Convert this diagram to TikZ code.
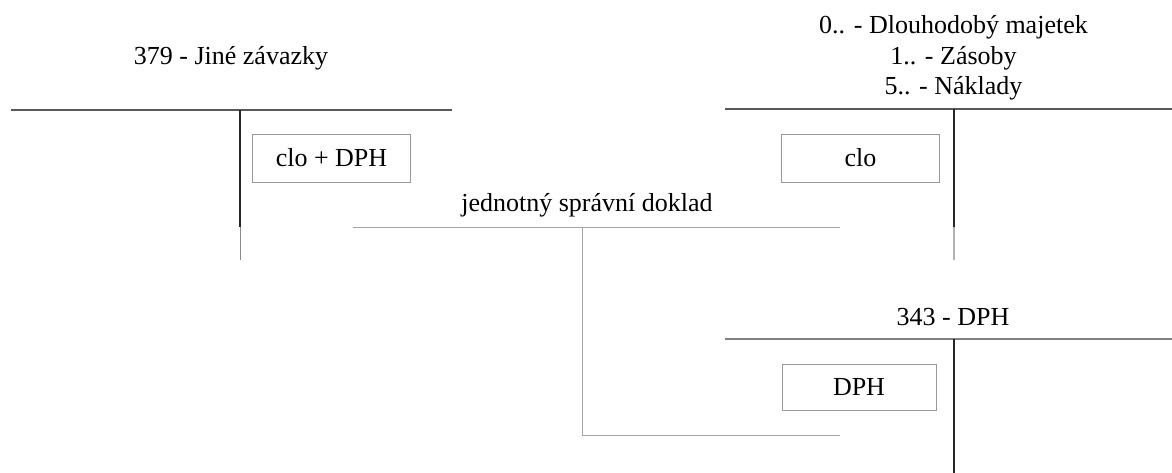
\documentclass[tikz,border=0pt]{standalone}
\usepackage{fontspec}
\setmainfont{Liberation Serif}
\begin{document}
\begin{tikzpicture}[x=1pt,y=-1pt,
  lbl/.style={font=\fontsize{26}{30.5}\selectfont, inner sep=0pt, anchor=center, align=center},
  entry/.style={draw=black!40, line width=0.8pt, minimum width=158pt, minimum height=48pt, inner sep=0pt, font=\fontsize{26}{30}\selectfont},
  acct/.style={draw=black!65, line width=1.5pt},
  axis/.style={draw=black!85, line width=1.8pt},
  tail/.style={draw=black!30, line width=1.5pt},
  conn/.style={draw=black!35, line width=0.9pt}]
\useasboundingbox (0,0) rectangle (1172,473);
% left account
\node[lbl] (t379) at (231,58) {379 - Jiné závazky};
\coordinate (l1) at (11,110); \coordinate (l2) at (452,110);
\coordinate (lv1) at (240,110); \coordinate (lv2) at (240,227); \coordinate (lv3) at (240,260);
\draw[acct] (l1) -- (l2);
\draw[axis] (lv1) -- (lv2);
\draw[draw=black!45, line width=0.9pt] (lv2) -- (lv3);
\node[entry] (b1) at (331.5,158) {clo + DPH};
% right top account
\node[lbl] (tr) at (953.5,58) {0.. - Dlouhodobý majetek\\1.. - Zásoby\\5.. - Náklady};
\coordinate (r1) at (725,109); \coordinate (r2) at (1172,109);
\coordinate (rv1) at (954,109); \coordinate (rv2) at (954,227); \coordinate (rv3) at (954,260);
\draw[acct] (r1) -- (r2);
\draw[axis] (rv1) -- (rv2);
\draw[tail] (rv2) -- (rv3);
\node[entry] (b2) at (860.5,158) {clo};
% right bottom account
\node[lbl] (t343) at (953,317) {343 - DPH};
\coordinate (d1) at (725,339); \coordinate (d2) at (1172,339);
\coordinate (dv1) at (954,339); \coordinate (dv2) at (954,473);
\draw[draw=black!50, line width=1.5pt] (d1) -- (d2);
\draw[axis] (dv1) -- (dv2);
\node[entry, minimum width=154pt, minimum height=46pt] (b3) at (859,387) {DPH};
% document
\node[lbl] (doc) at (587,205) {jednotný správní doklad};
\coordinate (c1) at (353,227); \coordinate (c2) at (840,227);
\coordinate (c3) at (582,227); \coordinate (c4) at (582,435); \coordinate (c5) at (840,435);
\draw[conn] (c1) -- (c2);
\draw[conn] (c3) -- (c4) -- (c5);
\end{tikzpicture}
\end{document}
